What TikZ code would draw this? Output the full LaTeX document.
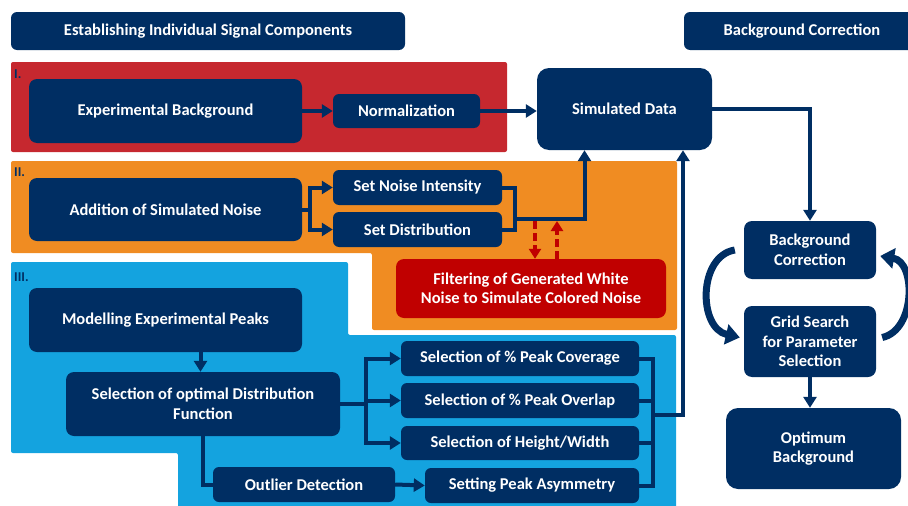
\documentclass[tikz,border=0pt]{standalone}
\usepackage{fontspec}
\setmainfont{Carlito}
\usetikzlibrary{arrows.meta,calc}
\definecolor{navy}{HTML}{002E63}
\definecolor{panelred}{HTML}{C6282F}
\definecolor{panelorange}{HTML}{F08C22}
\definecolor{panelblue}{HTML}{14A3DF}
\definecolor{filtred}{HTML}{C00000}
\begin{document}
\begin{tikzpicture}[x=1pt,y=-1pt,
  box/.style={fill=navy, rounded corners=8pt, text=white, font=\bfseries\fontsize{16.5}{19.5}\selectfont, align=center, inner sep=0pt},
  sbox/.style={box, rounded corners=6pt},
  conn/.style={draw=navy, line width=4pt, -{Triangle[length=11pt,width=13pt]}},
  plainline/.style={draw=navy, line width=4pt},
  reddash/.style={draw=filtred, line width=4pt, dash pattern=on 8pt off 4pt, -{Triangle[length=10pt,width=12pt]}},
  curv/.style={draw=navy, line width=7pt, -{Triangle[length=14pt,width=20pt]}},
  plabel/.style={anchor=west, text=navy, font=\bfseries\fontsize{13.5}{15}\selectfont, inner sep=0pt}]
\useasboundingbox (0,0) rectangle (908,506);
% panels
\fill[panelred, rounded corners=2pt] (11,62) rectangle (507,152);
\fill[panelorange, rounded corners=2pt] (11,161) -- (677,161) -- (677,330) -- (372,330) -- (372,253) -- (11,253) -- cycle;
\fill[panelblue, rounded corners=2pt] (11,262) -- (348,262) -- (348,335) -- (676,335) -- (676,520) -- (178,520) -- (178,453) -- (11,453) -- cycle;
\node[plabel] (l1) at (14,74) {I.};
\node[plabel] (l2) at (14,172) {II.};
\node[plabel] (l3) at (14,277) {III.};
% headers
\node[box, rounded corners=6pt, minimum width=394pt, minimum height=38pt] (h1) at (208,31) {Establishing Individual Signal Components};
\node[box, rounded corners=6pt, minimum width=236pt, minimum height=38pt] (h2) at (802,31) {Background Correction};
% boxes
\node[box, minimum width=273pt, minimum height=64pt] (expbg) at (165.5,111) {Experimental Background};
\node[sbox, minimum width=147pt, minimum height=34pt] (norm) at (406.5,111) {Normalization};
\node[box, rounded corners=12pt, minimum width=175pt, minimum height=82pt] (simd) at (624.5,109) {Simulated Data};
\node[box, minimum width=273pt, minimum height=63pt] (addn) at (165.5,209.5) {Addition of Simulated Noise};
\node[sbox, minimum width=169pt, minimum height=35pt] (sni) at (417.5,187.5) {Set Noise Intensity};
\node[sbox, minimum width=169pt, minimum height=35pt] (sdist) at (417.5,229.5) {Set Distribution};
\node[box, fill=filtred, minimum width=270pt, minimum height=59pt] (filt) at (531,288.5) {Filtering of Generated White\\Noise to Simulate Colored Noise};
\node[box, minimum width=273pt, minimum height=64pt] (model) at (165.5,320) {Modelling Experimental Peaks};
\node[box, minimum width=274pt, minimum height=64pt] (selopt) at (203,404) {Selection of optimal Distribution\\Function};
\node[sbox, minimum width=238pt, minimum height=35pt] (cov) at (520,358.5) {Selection of \% Peak Coverage};
\node[sbox, minimum width=238pt, minimum height=35pt] (ovl) at (520,400.5) {Selection of \% Peak Overlap};
\node[sbox, minimum width=238pt, minimum height=34pt] (hw) at (520,443) {Selection of Height/Width};
\node[sbox, minimum width=214pt, minimum height=35pt] (asym) at (532,485.5) {Setting Peak Asymmetry};
\node[sbox, minimum width=182pt, minimum height=35pt] (outl) at (304,484.5) {Outlier Detection};
\node[box, minimum width=132pt, minimum height=58pt] (bgc) at (810,250) {Background\\Correction};
\node[box, minimum width=132pt, minimum height=71pt] (grid) at (810,341.5) {Grid Search\\for Parameter\\Selection};
\node[box, rounded corners=12pt, minimum width=175pt, minimum height=81pt] (opt) at (813.5,448.5) {Optimum\\Background};
% section I
\draw[conn] (expbg.east) -- (norm.west);
\draw[conn] (norm.east) -- (norm.east -| simd.west);
% section II
\draw[conn] (addn.east) -- ++(8,0) |- (sni.west);
\draw[conn] (addn.east) -- ++(8,0) |- (sdist.west);
\coordinate (nb) at ($(sni.east)+(13,0)$);
\draw[plainline] (sni.east) -- (nb) -- (nb |- sdist.east) -- (sdist.east);
\coordinate (nj) at ($(nb)+(0,31)$);
\draw[conn] (nj) -| ($(simd.south)+(-40,0)$);
\coordinate (rd1) at (535,221);
\coordinate (rd2) at (557,221);
\draw[reddash] (rd1) -- (rd1 |- filt.north);
\draw[reddash] (rd2 |- filt.north) -- (rd2);
% section III
\draw[conn] ([xshift=35pt]model.south) -- ([xshift=35pt]model.south |- selopt.north);
\draw[conn] (selopt.east) -- ++(26,0) |- (cov.west);
\draw[conn] (selopt.east) -- ++(26,0) |- (ovl.west);
\draw[conn] (selopt.east) -- ++(26,0) |- (hw.west);
\draw[plainline] (selopt.south) |- (outl.west);
\draw[conn] (outl.east) -- (asym.west);
\coordinate (rb) at ($(cov.east)+(14,0)$);
\draw[plainline] (cov.east) -- (rb) -- (rb |- asym.east) -- (asym.east);
\draw[plainline] (ovl.east) -- (ovl.east -| rb);
\draw[plainline] (hw.east) -- (hw.east -| rb);
\coordinate (rj) at (rb |- 0,415);
\draw[conn] (rj) -| ($(simd.south)+(58.5,0)$);
% background correction
\draw[conn] (simd.east) -| (bgc.north);
\draw[conn] (grid.south) -- (grid.south |- opt.north);
\coordinate (c1) at ($(bgc.west)+(-9,0)$);
\coordinate (c2) at ($(grid.west)+(-4,-4)$);
\draw[curv] (c1) .. controls (698,256) and (698,328) .. (c2);
\coordinate (c3) at ($(grid.east)+(6,-4)$);
\coordinate (c4) at ($(bgc.east)+(4,6)$);
\draw[curv] (c3) .. controls (916,330) and (916,262) .. (c4);
\end{tikzpicture}
\end{document}
